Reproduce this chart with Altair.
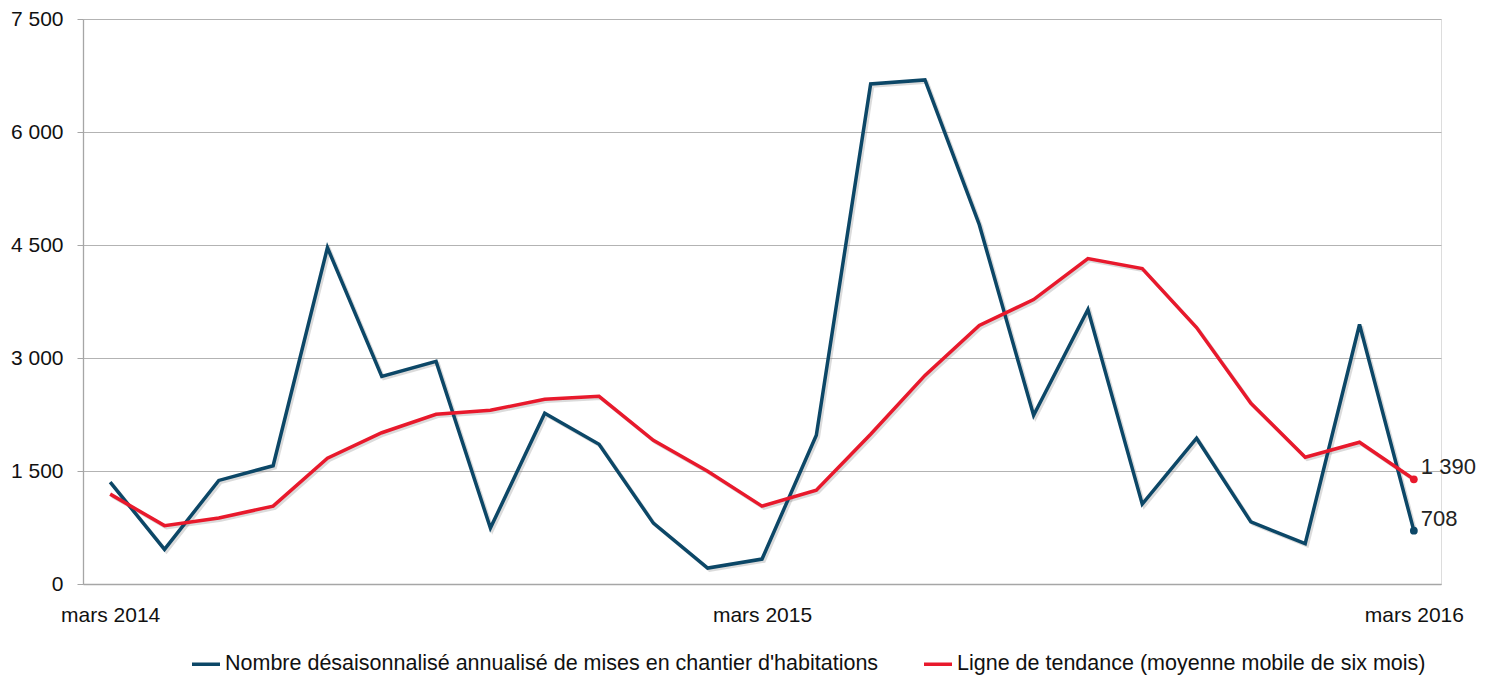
import altair as alt
import pandas as pd

mois = [
    "mars 2014", "avr. 2014", "mai 2014", "juin 2014", "juil. 2014", "août 2014",
    "sept. 2014", "oct. 2014", "nov. 2014", "déc. 2014", "janv. 2015", "févr. 2015",
    "mars 2015", "avr. 2015", "mai 2015", "juin 2015", "juil. 2015", "août 2015",
    "sept. 2015", "oct. 2015", "nov. 2015", "déc. 2015", "janv. 2016", "févr. 2016",
    "mars 2016",
]
mises_en_chantier = [
    1351, 460, 1375, 1570, 4465, 2756, 2955, 742, 2266, 1855, 808, 212,
    331, 1974, 6638, 6691, 4770, 2239, 3644, 1060, 1935, 825, 535, 3445, 708,
]
tendance = [
    1193, 775, 875, 1034, 1670, 2008, 2253, 2306, 2451, 2491, 1908, 1497,
    1034, 1246, 1988, 2769, 3432, 3776, 4320, 4187, 3405, 2398, 1683, 1882, 1390,
]
serie_a = "Nombre désaisonnalisé annualisé de mises en chantier d'habitations"
serie_b = "Ligne de tendance (moyenne mobile de six mois)"
ticks_x = ["mars 2014", "mars 2015", "mars 2016"]
ticks_y = [0, 1500, 3000, 4500, 6000, 7500]

rows = []
for m, a, b in zip(mois, mises_en_chantier, tendance):
    rows.append({"mois": m, "serie": serie_a, "valeur": a})
    rows.append({"mois": m, "serie": serie_b, "valeur": b})
df = pd.DataFrame(rows)
last = df[df["mois"] == mois[-1]].copy()
last["etiquette"] = last["valeur"].map(lambda v: f"{v:,}".replace(",", " "))

FONT = "Liberation Sans"
BLUE = "#0c4767"
RED = "#e8192c"

x_enc = alt.X(
    "mois:N", sort=mois,
    scale=alt.Scale(type="point", padding=0.5),
    axis=alt.Axis(
        values=ticks_x, labelAngle=0, title=None, ticks=False, grid=False,
        domainColor="#a6a6a6", domainWidth=1.3, labelFont=FONT, labelFontSize=21,
        labelColor="#111111", labelPadding=20,
    ),
)
y_enc = alt.Y(
    "valeur:Q",
    scale=alt.Scale(domain=[0, 7500], nice=False),
    axis=alt.Axis(
        values=ticks_y, title=None, grid=True, gridColor="#b3b3b3", gridWidth=1.2,
        domainColor="#a6a6a6", domainWidth=1.3, tickColor="#a6a6a6", tickSize=6,
        labelFont=FONT, labelFontSize=21, labelColor="#111111", labelPadding=14,
        labelExpr="replace(format(datum.value, ',d'), ',', ' ')",
    ),
)
color_enc = alt.Color(
    "serie:N",
    sort=[serie_a, serie_b],
    scale=alt.Scale(domain=[serie_a, serie_b], range=[BLUE, RED]),
    legend=alt.Legend(
        title=None, orient="none", direction="horizontal", legendX=107, legendY=629,
        symbolType="stroke", symbolStrokeWidth=3.5, symbolSize=784,
        labelFont=FONT, labelFontSize=21.5, labelColor="#111111", labelOffset=3,
        columnPadding=38, labelLimit=900,
    ),
)

base = alt.Chart(df)
shadow = base.mark_line(
    strokeWidth=3.5, color="#888888", opacity=0.3, xOffset=2, yOffset=2
).encode(x=x_enc, y=y_enc, detail="serie:N")
lines = base.mark_line(strokeWidth=3.5).encode(x=x_enc, y=y_enc, color=color_enc)
points = alt.Chart(last).mark_circle(size=60, opacity=1).encode(
    x=x_enc, y=y_enc,
    color=alt.Color("serie:N", scale=alt.Scale(domain=[serie_a, serie_b], range=[BLUE, RED]), legend=None),
)
labels = alt.Chart(last).mark_text(
    align="left", baseline="middle", dx=7, dy=-12, font=FONT, fontSize=22, color="#222222"
).encode(x=x_enc, y=y_enc, text="etiquette:N")

chart = alt.layer(shadow, lines, points, labels).properties(
    width=1358, height=565,
    autosize=alt.AutoSizeParams(type="none"),
    padding={"left": 75, "top": 11, "right": 42, "bottom": 93},
).configure_view(stroke=None).configure(background="white")

chart.save("out.html", embed_options={"renderer": "svg", "actions": False})
